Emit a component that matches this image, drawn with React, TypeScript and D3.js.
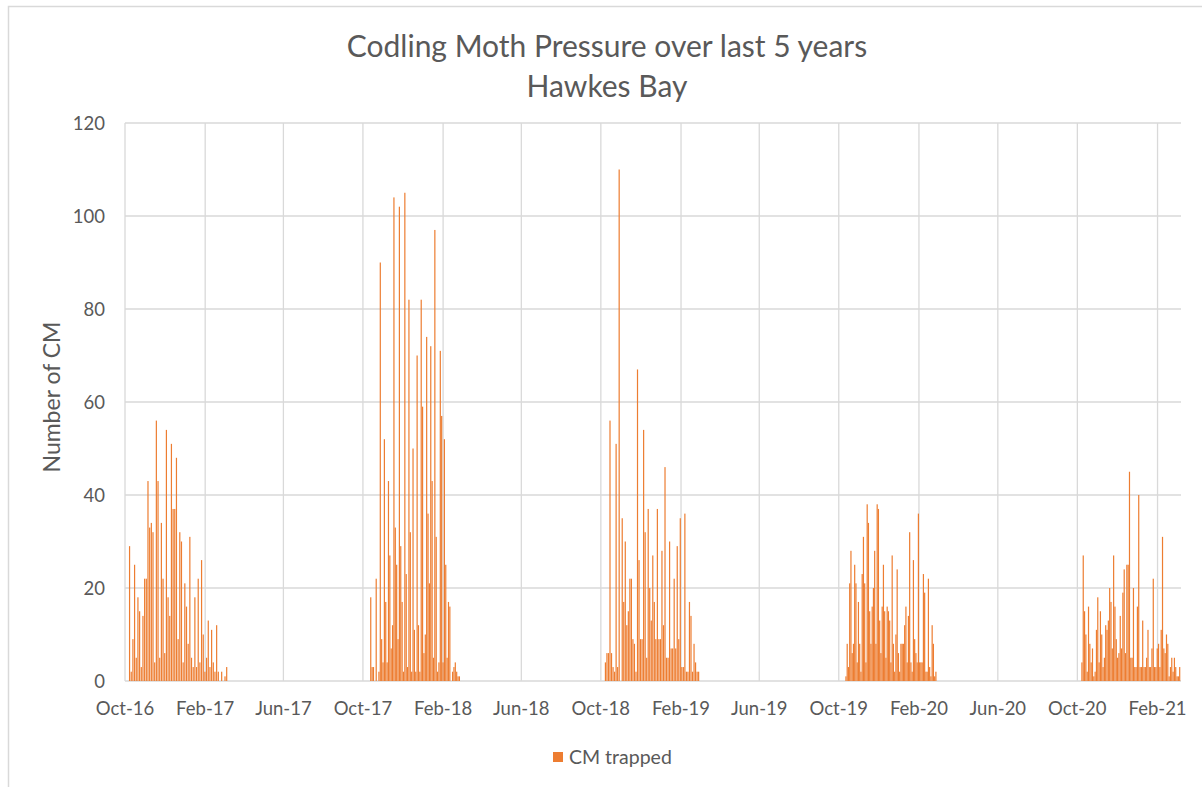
import { useEffect, useRef } from "react";
import * as d3 from "d3";

// weekly-ish trap counts per season
const season1617 = [29, 2, 9, 25, 5, 18, 15, 3, 14, 22, 22, 43, 33, 34, 32, 4, 56, 43, 5, 34, 22, 6, 54, 18, 14, 51, 37, 37, 48, 9, 32, 30, 4, 21, 16, 8, 31, 5, 3, 18, 3, 22, 4, 26, 10, 2, 5, 13, 3, 11, 4, 2, 12, 2, 0, 2, 0, 1, 3];
const season1718 = [18, 3, 3, 0, 22, 0, 2, 90, 9, 4, 52, 17, 4, 43, 27, 7, 12, 104, 33, 25, 9, 102, 29, 17, 2, 105, 23, 3, 82, 32, 2, 50, 11, 2, 70, 12, 2, 82, 59, 6, 10, 74, 36, 21, 72, 43, 5, 97, 31, 2, 4, 71, 57, 4, 52, 25, 5, 17, 16, 0, 2, 3, 4, 2, 1, 1];
const season1819 = [4, 6, 6, 56, 6, 3, 2, 51, 3, 110, 0, 35, 17, 30, 12, 15, 22, 22, 9, 8, 2, 67, 26, 9, 9, 54, 32, 5, 37, 20, 13, 27, 17, 9, 37, 9, 9, 28, 12, 46, 5, 5, 30, 7, 7, 22, 7, 29, 9, 35, 3, 3, 36, 2, 2, 17, 14, 2, 8, 4, 2, 2];
const season1920 = [1, 8, 3, 21, 28, 6, 8, 25, 21, 4, 17, 8, 2, 23, 31, 21, 4, 38, 34, 15, 8, 16, 20, 28, 8, 38, 37, 13, 6, 16, 25, 15, 5, 16, 15, 13, 4, 27, 8, 2, 10, 24, 6, 2, 8, 8, 8, 12, 16, 4, 14, 32, 4, 2, 26, 9, 6, 4, 36, 4, 4, 4, 23, 19, 2, 2, 22, 3, 1, 12, 8, 1, 2];
const season2021 = [4, 27, 15, 10, 2, 16, 8, 4, 7, 1, 2, 11, 18, 4, 15, 10, 3, 5, 12, 11, 13, 20, 17, 7, 27, 16, 9, 5, 6, 14, 7, 19, 24, 6, 25, 25, 45, 5, 5, 20, 3, 3, 16, 40, 3, 3, 13, 3, 3, 5, 11, 3, 3, 7, 22, 3, 3, 7, 8, 3, 11, 31, 7, 6, 10, 8, 1, 3, 5, 2, 5, 3, 1, 1, 3];

const seasonStarts = ["2016-10-08", "2017-10-13", "2018-10-08", "2019-10-12", "2020-10-08"];
const seasonEnds = ["2017-03-06", "2018-02-26", "2019-02-28", "2020-02-27", "2021-03-07"];
const seasonValues = [season1617, season1718, season1819, season1920, season2021];

const yTicks = [0, 20, 40, 60, 80, 100, 120];
const xTickDates = ["2016-10-01", "2017-02-01", "2017-06-01", "2017-10-01", "2018-02-01", "2018-06-01", "2018-10-01", "2019-02-01", "2019-06-01", "2019-10-01", "2020-02-01", "2020-06-01", "2020-10-01", "2021-02-01"];
const xTickLabels = ["Oct-16", "Feb-17", "Jun-17", "Oct-17", "Feb-18", "Jun-18", "Oct-18", "Feb-19", "Jun-19", "Oct-19", "Feb-20", "Jun-20", "Oct-20", "Feb-21"];

const W = 1202;
const H = 787;
const FONT = "Lato, 'Open Sans', sans-serif";
const TEXT = "#595959";
const GRID = "#D9D9D9";
const BAR = "#ED7D31";

export default function App() {
  const svgRef = useRef<SVGSVGElement | null>(null);

  useEffect(() => {
    if (!svgRef.current) return;
    const svg = d3.select(svgRef.current);
    svg.selectAll("*").remove();

    const parse = d3.timeParse("%Y-%m-%d");
    const plot = { left: 125, right: 1181, top: 123, bottom: 681 };

    const x = d3
      .scaleTime()
      .domain([parse("2016-10-01")!, parse("2021-03-09")!])
      .range([plot.left, plot.right]);
    const y = d3.scaleLinear().domain([0, 120]).range([plot.bottom, plot.top]);

    // flatten seasons into dated points
    const points: { date: Date; value: number }[] = [];
    seasonValues.forEach((vals, s) => {
      const t0 = parse(seasonStarts[s])!.getTime();
      const t1 = parse(seasonEnds[s])!.getTime();
      vals.forEach((v, i) => {
        points.push({ date: new Date(t0 + ((t1 - t0) * i) / (vals.length - 1)), value: v });
      });
    });

    // chart frame (cut off at right/bottom)
    svg
      .append("path")
      .attr("d", `M8.5,${H} V6.5 H${W}`)
      .attr("fill", "none")
      .attr("stroke", GRID)
      .attr("stroke-width", 1.5);

    // title
    const title = svg
      .append("text")
      .attr("x", 607)
      .attr("text-anchor", "middle")
      .attr("fill", TEXT)
      .style("font-family", FONT)
      .style("font-size", "30px");
    title.append("tspan").attr("x", 607).attr("y", 57).text("Codling Moth Pressure over last 5 years");
    title.append("tspan").attr("x", 607).attr("y", 97).text("Hawkes Bay");

    // gridlines
    const grid = svg.append("g");
    grid
      .selectAll("line.h")
      .data(yTicks)
      .enter()
      .append("line")
      .attr("x1", plot.left)
      .attr("x2", plot.right)
      .attr("y1", (d) => y(d))
      .attr("y2", (d) => y(d))
      .attr("stroke", GRID)
      .attr("stroke-width", 1.3);
    grid
      .selectAll("line.v")
      .data(xTickDates)
      .enter()
      .append("line")
      .attr("x1", (d) => x(parse(d)!))
      .attr("x2", (d) => x(parse(d)!))
      .attr("y1", plot.top)
      .attr("y2", plot.bottom)
      .attr("stroke", GRID)
      .attr("stroke-width", 1.3);

    // bars
    const bw = 1.2;
    svg
      .append("g")
      .selectAll("rect")
      .data(points)
      .enter()
      .append("rect")
      .attr("x", (d) => x(d.date) - bw / 2)
      .attr("y", (d) => y(d.value))
      .attr("width", bw)
      .attr("height", (d) => y(0) - y(d.value))
      .attr("fill", BAR);

    // y tick labels
    svg
      .append("g")
      .selectAll("text")
      .data(yTicks)
      .enter()
      .append("text")
      .attr("x", 105)
      .attr("y", (d) => y(d) + 7)
      .attr("text-anchor", "end")
      .attr("fill", TEXT)
      .style("font-family", FONT)
      .style("font-size", "18.5px")
      .text((d) => d);

    // x tick labels
    svg
      .append("g")
      .selectAll("text")
      .data(xTickDates)
      .enter()
      .append("text")
      .attr("x", (d) => x(parse(d)!))
      .attr("y", 715)
      .attr("text-anchor", "middle")
      .attr("fill", TEXT)
      .style("font-family", FONT)
      .style("font-size", "18.5px")
      .text((_, i) => xTickLabels[i]);

    // y axis title
    svg
      .append("text")
      .attr("transform", "translate(60,397) rotate(-90)")
      .attr("text-anchor", "middle")
      .attr("fill", TEXT)
      .style("font-family", FONT)
      .style("font-size", "23px")
      .text("Number of CM");

    // legend
    svg
      .append("rect")
      .attr("x", 553)
      .attr("y", 752)
      .attr("width", 10)
      .attr("height", 10)
      .attr("fill", BAR);
    svg
      .append("text")
      .attr("x", 569)
      .attr("y", 764)
      .attr("fill", TEXT)
      .style("font-family", FONT)
      .style("font-size", "19.5px")
      .text("CM trapped");
  }, []);

  return (
    <svg
      ref={svgRef}
      width={W}
      height={H}
      style={{ position: "absolute", left: 0, top: 0, background: "#fff" }}
    />
  );
}
